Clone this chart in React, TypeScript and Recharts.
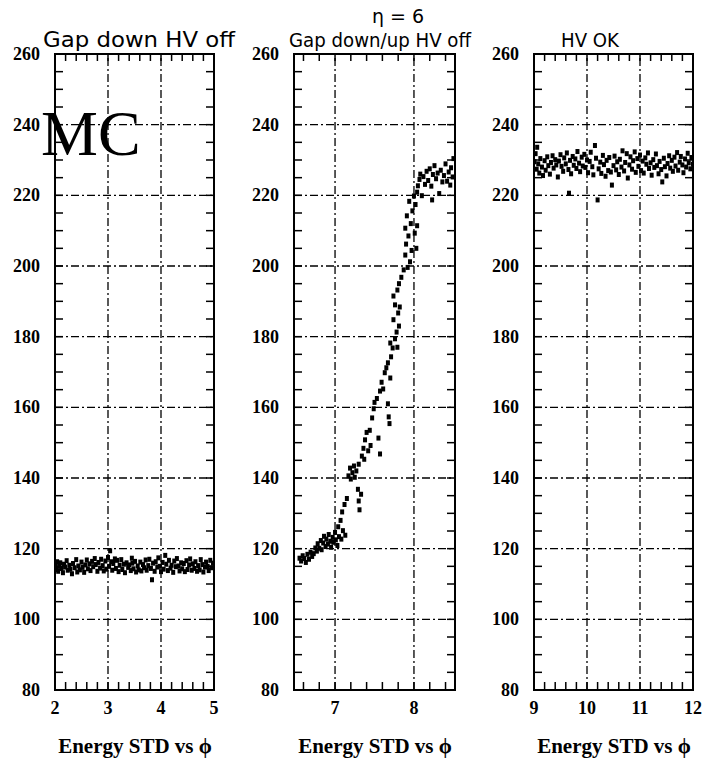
import { ScatterChart, Scatter, XAxis, YAxis, ReferenceLine, ReferenceArea } from 'recharts';

const PLOT_TOP = 54;
const PLOT_BOTTOM = 690;
const CHART_H = 759;
const SERIF = '"Liberation Serif", "Times New Roman", serif';
const SANS = '"DejaVu Sans", sans-serif';

// shared vertical scale
const yTicks = [
  80, 85, 90, 95, 100, 105, 110, 115, 120, 125, 130, 135, 140, 145, 150, 155, 160, 165, 170,
  175, 180, 185, 190, 195, 200, 205, 210, 215, 220, 225, 230, 235, 240, 245, 250, 255, 260,
];
const yGrid = [100, 120, 140, 160, 180, 200, 220, 240];

// --- Gap down HV off ---
const gapDownTicks = [2, 2.2, 2.4, 2.6, 2.8, 3, 3.2, 3.4, 3.6, 3.8, 4, 4.2, 4.4, 4.6, 4.8, 5];
const gapDownGrid = [3, 4];
const gapDownPhi = [
  2.01, 2.03, 2.04, 2.06, 2.08, 2.10, 2.12, 2.15, 2.17, 2.19, 2.22, 2.24, 2.27, 2.29, 2.32, 2.34,
  2.37, 2.40, 2.42, 2.44, 2.47, 2.50, 2.52, 2.55, 2.57, 2.60, 2.62, 2.65, 2.67, 2.70, 2.72, 2.75,
  2.77, 2.80, 2.82, 2.85, 2.87, 2.90, 2.92, 2.95, 2.97, 3.00, 3.02, 3.04, 3.06, 3.08, 3.10, 3.13,
  3.15, 3.17, 3.20, 3.22, 3.25, 3.27, 3.30, 3.32, 3.35, 3.38, 3.40, 3.43, 3.45, 3.46, 3.48, 3.51,
  3.53, 3.56, 3.58, 3.61, 3.63, 3.66, 3.68, 3.71, 3.73, 3.76, 3.78, 3.81, 3.83, 3.85, 3.88, 3.90,
  3.93, 3.95, 3.98, 4.00, 4.03, 4.05, 4.08, 4.10, 4.13, 4.15, 4.18, 4.20, 4.23, 4.25, 4.28, 4.30,
  4.33, 4.35, 4.38, 4.40, 4.43, 4.45, 4.48, 4.50, 4.53, 4.55, 4.58, 4.60, 4.63, 4.65, 4.68, 4.70,
  4.73, 4.75, 4.78, 4.80, 4.83, 4.85, 4.88, 4.90, 4.93, 4.95, 4.98,
];
const gapDownStd = [
  115.2, 114.1, 116.3, 113.6, 115.0, 116.0, 114.4, 113.2, 115.6, 114.8, 116.6, 113.9, 115.3, 114.2, 112.9, 115.8,
  114.6, 116.9, 113.4, 115.1, 114.0, 116.2, 114.7, 113.3, 115.4, 116.8, 114.3, 115.7, 113.8, 116.4, 114.9, 117.2,
  115.5, 113.6, 116.1, 114.5, 117.0, 115.2, 113.7, 116.5, 114.2, 117.5, 115.0, 119.4, 116.3, 113.9, 115.8, 117.1,
  114.4, 116.7, 113.5, 115.3, 116.9, 114.1, 115.6, 113.2, 116.0, 114.7, 115.4, 113.8, 117.3, 115.9, 114.3, 116.4,
  113.4, 115.1, 114.0, 116.2, 113.7, 115.5, 114.6, 116.8, 113.9, 115.2, 117.0, 114.4, 111.2, 115.9, 113.6, 116.3,
  114.8, 117.4, 115.0, 113.5, 116.1, 114.2, 118.1, 115.6, 113.8, 116.7, 114.5, 115.3, 113.3, 116.5, 114.9, 117.2,
  115.1, 113.7, 116.0, 114.3, 115.8, 113.5, 116.6, 114.1, 115.4, 117.1, 113.9, 115.7, 114.4, 116.3, 113.6, 115.2,
  114.0, 116.9, 115.5, 113.4, 114.8, 116.2, 115.0, 113.8, 116.7, 114.6, 115.9,
];

// --- Gap down/up HV off ---
const gapUpDownTicks = [6.6, 6.8, 7, 7.2, 7.4, 7.6, 7.8, 8, 8.2, 8.4];
const gapUpDownGrid = [7, 8];
const gapUpDownPhi = [
  6.55, 6.57, 6.59, 6.61, 6.63, 6.65, 6.67, 6.69, 6.71, 6.73, 6.75, 6.77, 6.78, 6.80, 6.82, 6.83,
  6.85, 6.86, 6.88, 6.89, 6.91, 6.92, 6.94, 6.95, 6.97, 6.98, 7.00, 7.01, 7.03, 7.04, 7.05, 7.07,
  7.08, 7.09, 7.10, 7.12, 7.13, 7.15, 7.17, 7.19, 7.20, 7.22, 7.24, 7.25, 7.27, 7.29, 7.30, 7.31,
  7.33, 7.30, 7.34, 7.36, 7.38, 7.37, 7.40, 7.42, 7.44, 7.45, 7.47, 7.49, 7.50, 7.53, 7.55, 7.57,
  7.57, 7.59, 7.61, 7.63, 7.65, 7.67, 7.68, 7.69, 7.70, 7.67, 7.71, 7.73, 7.70, 7.76, 7.79, 7.78,
  7.81, 7.74, 7.80, 7.76, 7.82, 7.74, 7.79, 7.81, 7.84, 7.87, 7.92, 7.95, 7.89, 7.97, 7.90, 8.03,
  7.93, 8.01, 7.89, 7.96, 8.04, 7.91, 7.98, 8.02, 7.94, 8.00, 8.04, 8.05, 8.07, 8.08, 8.10, 8.12,
  8.14, 8.16, 8.18, 8.20, 8.22, 8.23, 8.24, 8.26, 8.28, 8.30, 8.32, 8.34, 8.36, 8.38, 8.40, 8.42,
  8.44, 8.46, 8.47, 8.49, 8.50,
];
const gapUpDownStd = [
  117.3, 116.5, 118.0, 117.2, 116.1, 118.4, 117.0, 119.0, 117.8, 118.6, 120.2, 119.3, 121.4, 120.1, 122.3, 119.7,
  121.6, 123.5, 120.6, 122.7, 121.3, 124.0, 122.1, 120.4, 123.2, 121.8, 124.6, 122.5, 120.9, 126.2, 123.4, 128.0,
  122.7, 130.4, 125.1, 132.5, 123.8, 134.2, 140.6, 142.8, 139.7, 141.5, 143.4, 140.2, 142.0, 136.8, 133.5, 131.0,
  135.4, 143.9, 146.2, 148.4, 150.8, 145.3, 152.9, 147.7, 153.5, 149.2, 157.0, 159.6, 161.4, 162.5, 151.3, 146.8,
  164.6, 167.1, 165.2, 169.8, 171.2, 161.0, 157.3, 155.4, 168.3, 172.6, 174.3, 176.8, 178.2, 179.4, 177.0, 181.3,
  183.0, 184.8, 186.7, 189.0, 188.4, 191.5, 193.2, 195.0, 196.8, 198.9, 199.6, 201.2, 203.1, 204.4, 206.2, 205.0,
  208.5, 209.3, 210.7, 212.0, 211.4, 214.2, 215.6, 217.4, 218.3, 219.8, 220.9, 222.7, 224.5, 226.0, 219.9, 225.3,
  223.1, 226.8, 224.2, 227.5, 222.6, 218.7, 225.9, 228.4, 224.7, 226.3, 220.5, 227.1, 223.8, 225.6, 228.9, 224.0,
  226.6, 222.9, 227.8, 225.2, 230.4,
];

// --- HV OK ---
const hvOkTicks = [9, 9.2, 9.4, 9.6, 9.8, 10, 10.2, 10.4, 10.6, 10.8, 11, 11.2, 11.4, 11.6, 11.8, 12];
const hvOkGrid = [10, 11];
const hvOkPhi = [
  9.01, 9.03, 9.05, 9.06, 9.08, 9.10, 9.12, 9.15, 9.17, 9.20, 9.22, 9.25, 9.27, 9.30, 9.32, 9.35,
  9.37, 9.40, 9.42, 9.45, 9.47, 9.50, 9.52, 9.55, 9.57, 9.60, 9.62, 9.65, 9.66, 9.68, 9.70, 9.73,
  9.75, 9.78, 9.80, 9.82, 9.85, 9.87, 9.90, 9.92, 9.95, 9.97, 10.00, 10.02, 10.05, 10.07, 10.10, 10.12,
  10.15, 10.17, 10.20, 10.22, 10.25, 10.27, 10.30, 10.32, 10.35, 10.37, 10.40, 10.42, 10.45, 10.47, 10.50, 10.52,
  10.55, 10.57, 10.60, 10.62, 10.65, 10.67, 10.70, 10.72, 10.75, 10.77, 10.80, 10.82, 10.85, 10.87, 10.90, 10.92,
  10.95, 10.97, 11.00, 11.02, 11.05, 11.07, 11.10, 11.12, 11.15, 11.17, 11.20, 11.22, 11.25, 11.27, 11.30, 11.32,
  11.35, 11.37, 11.40, 11.42, 11.45, 11.47, 11.50, 11.52, 11.55, 11.57, 11.60, 11.62, 11.65, 11.67, 11.70, 11.72,
  11.75, 11.77, 11.80, 11.82, 11.85, 11.87, 11.90, 11.92, 11.95, 11.97, 12.00,
];
const hvOkStd = [
  229.5, 231.8, 227.4, 233.6, 228.9, 226.3, 230.4, 228.0, 225.6, 229.8, 227.1, 230.9, 228.4, 226.0, 229.3, 231.2,
  227.7, 230.1, 228.6, 225.2, 229.7, 231.5, 228.2, 226.8, 230.6, 228.9, 232.0, 227.3, 220.6, 229.9, 226.1, 231.0,
  228.5, 230.3, 227.6, 232.4, 229.1, 226.7, 230.8, 228.3, 231.6, 227.9, 230.0, 226.4, 229.6, 232.2, 228.1, 225.8,
  234.1, 230.5, 218.7, 227.5, 229.4, 226.2, 231.3, 228.7, 225.4, 229.9, 227.0, 230.7, 226.6, 222.9, 228.4, 231.1,
  227.2, 229.5, 225.9, 230.2, 228.0, 232.6, 226.9, 229.3, 231.8, 224.9, 228.6, 230.9, 227.4, 229.8, 232.3, 226.5,
  230.4, 228.2, 231.4, 227.0, 229.7, 226.3, 230.6, 228.8, 232.0, 227.6, 229.2, 225.7, 230.1, 227.9, 231.7, 228.4,
  226.1, 229.6, 227.3, 223.8, 230.5, 228.1, 225.5, 229.0, 231.2, 227.7, 229.9, 226.8, 230.8, 228.3, 232.1, 227.1,
  229.4, 231.0, 228.6, 226.4, 230.3, 228.0, 231.9, 229.2, 227.5, 230.7, 228.8,
];

const gridDash = '8 3 2 3';

// small filled box, a bit taller than wide
function Dot(props: any) {
  const { cx, cy } = props;
  return <rect x={cx - 2} y={cy - 2.5} width={4} height={5} fill="#000" />;
}

interface PanelProps {
  left: number;
  width: number;
  axisWidth: number;
  marginRight: number;
  domain: [number, number];
  xTicks: number[];
  xGrid: number[];
  xs: number[];
  ys: number[];
}

function Panel({ left, width, axisWidth, marginRight, domain, xTicks, xGrid, xs, ys }: PanelProps) {
  const plotLeft = axisWidth;
  const plotRight = width - marginRight;
  const data = xs.map((x, i) => ({ x, y: ys[i] }));

  const renderXTick = (p: any) => {
    const v = p.payload.value;
    const x = p.x;
    const major = Math.abs(v - Math.round(v)) < 1e-6;
    return (
      <g>
        <line x1={x} x2={x} y1={PLOT_BOTTOM} y2={PLOT_BOTTOM - 8} stroke="#000" strokeWidth={1.5} />
        <line x1={x} x2={x} y1={PLOT_TOP} y2={PLOT_TOP + 7} stroke="#000" strokeWidth={1.5} />
        {major && (
          <text x={x} y={PLOT_BOTTOM + 24} textAnchor="middle" fontFamily={SERIF} fontWeight="bold" fontSize={18} fill="#000">
            {Math.round(v)}
          </text>
        )}
      </g>
    );
  };

  const renderYTick = (p: any) => {
    const v = p.payload.value;
    const y = p.y;
    return (
      <g>
        <line x1={plotLeft} x2={plotLeft + 8} y1={y} y2={y} stroke="#000" strokeWidth={1.5} />
        <line x1={plotRight - 8} x2={plotRight} y1={y} y2={y} stroke="#000" strokeWidth={1.5} />
        {v % 20 === 0 && (
          <text x={plotLeft - 15} y={y + 6} textAnchor="end" fontFamily={SERIF} fontWeight="bold" fontSize={18} fill="#000">
            {v}
          </text>
        )}
      </g>
    );
  };

  return (
    <div style={{ position: 'absolute', left, top: 0 }}>
      <ScatterChart
        width={width}
        height={CHART_H}
        margin={{ top: PLOT_TOP, right: marginRight, bottom: 0, left: 0 }}
      >
        <XAxis
          type="number"
          dataKey="x"
          domain={domain}
          allowDataOverflow
          ticks={xTicks}
          interval={0}
          height={CHART_H - PLOT_BOTTOM}
          axisLine={false}
          tickLine={false}
          tick={renderXTick}
        />
        <YAxis
          type="number"
          dataKey="y"
          domain={[80, 260]}
          allowDataOverflow
          ticks={yTicks}
          interval={0}
          width={axisWidth}
          axisLine={false}
          tickLine={false}
          tick={renderYTick}
        />
        {yGrid.map(v => (
          <ReferenceLine key={`h${v}`} y={v} stroke="#000" strokeWidth={1.3} strokeDasharray={gridDash} />
        ))}
        {xGrid.map(v => (
          <ReferenceLine key={`v${v}`} x={v} stroke="#000" strokeWidth={1.3} strokeDasharray={gridDash} />
        ))}
        <ReferenceArea
          x1={domain[0]}
          x2={domain[1]}
          y1={80}
          y2={260}
          fill="none"
          fillOpacity={0}
          stroke="#000"
          strokeWidth={2}
        />
        <Scatter data={data} shape={Dot} isAnimationActive={false} />
      </ScatterChart>
    </div>
  );
}

const titles = [
  { text: 'Gap down HV off', x: 43, len: 192, size: 22 },
  { text: 'Gap down/up HV off', x: 289, len: 182, size: 19 },
  { text: 'HV OK', x: 561, len: 58, size: 19 },
];
const axisTitleCenters = [135, 375, 614];

export default function App() {
  return (
    <div style={{ position: 'absolute', left: 0, top: 0, width: 703, height: CHART_H, background: '#fff' }}>
      <Panel left={0} width={230} axisWidth={55} marginRight={16} domain={[2, 5]}
        xTicks={gapDownTicks} xGrid={gapDownGrid} xs={gapDownPhi} ys={gapDownStd} />
      <Panel left={230} width={240} axisWidth={64} marginRight={15} domain={[6.48, 8.52]}
        xTicks={gapUpDownTicks} xGrid={gapUpDownGrid} xs={gapUpDownPhi} ys={gapUpDownStd} />
      <Panel left={470} width={233} axisWidth={64} marginRight={10} domain={[9, 12]}
        xTicks={hvOkTicks} xGrid={hvOkGrid} xs={hvOkPhi} ys={hvOkStd} />
      <svg width={703} height={CHART_H} style={{ position: 'absolute', left: 0, top: 0, pointerEvents: 'none' }}>
        <text x={398} y={23} textAnchor="middle" fontFamily={SANS} fontSize={19} fill="#000">η = 6</text>
        {titles.map(t => (
          <text key={t.text} x={t.x} y={47} fontFamily={SANS} fontSize={t.size} textLength={t.len}
            lengthAdjust="spacingAndGlyphs" fill="#000">
            {t.text}
          </text>
        ))}
        {axisTitleCenters.map(cx => (
          <text key={cx} x={cx} y={753} textAnchor="middle" fontFamily={SERIF} fontWeight="bold" fontSize={21} fill="#000">
            Energy STD vs ϕ
          </text>
        ))}
        <text x={41} y={155} fontFamily={SERIF} fontSize={64} fill="#000">MC</text>
      </svg>
    </div>
  );
}
